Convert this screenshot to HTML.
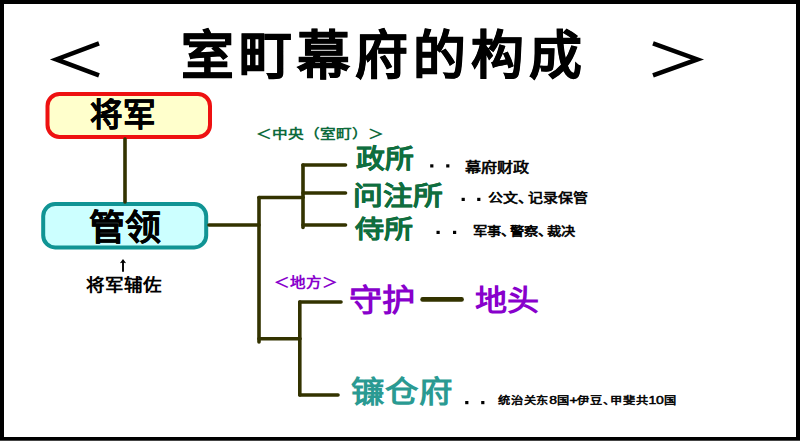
<!DOCTYPE html>
<html lang="zh-CN">
<head>
<meta charset="utf-8">
<style>
html,body{margin:0;padding:0;}
body{width:800px;height:441px;position:relative;overflow:hidden;background:#000;font-family:"Liberation Sans",sans-serif;font-weight:bold;}
#page{position:absolute;left:4px;top:4px;width:792px;height:432.8px;background:#fff;}
.a{position:absolute;white-space:nowrap;line-height:1;}
.dk{letter-spacing:-5px;}
svg{position:absolute;left:0;top:0;}
</style>
</head>
<body>
<div id="page"></div><div style="position:absolute;left:0;top:440px;width:800px;height:1px;background:#454545"></div>
<svg width="800" height="441" viewBox="0 0 800 441">
<rect x="47.5" y="94" width="162.5" height="43" rx="12" ry="12" fill="#ffffcc" stroke="#ee1111" stroke-width="4"/>
<rect x="43.2" y="204.1" width="163" height="43.3" rx="12" ry="12" fill="#ccffff" stroke="#109494" stroke-width="4"/>
<g stroke="#333300" stroke-width="3.6" stroke-linecap="round" fill="none">
<line x1="125" y1="139" x2="125" y2="202"/>
<line x1="209" y1="225" x2="259" y2="225"/>
<line x1="259" y1="197.5" x2="259" y2="342"/>
<line x1="259" y1="197.5" x2="303" y2="197.5"/>
<line x1="303" y1="165" x2="303" y2="227.5"/>
<line x1="303" y1="165" x2="345.5" y2="165"/>
<line x1="303" y1="193" x2="345.5" y2="193"/>
<line x1="303" y1="225" x2="345.5" y2="225"/>
<line x1="259" y1="338.8" x2="300" y2="338.8"/>
<line x1="299.8" y1="302" x2="299.8" y2="395"/>
<line x1="299.8" y1="302" x2="341" y2="302"/>
<line x1="299.8" y1="395" x2="338" y2="395"/>
</g>
<line x1="422.6" y1="299.4" x2="461.6" y2="299.4" stroke="#333300" stroke-width="4.6" stroke-linecap="round"/>
<g stroke="#000" stroke-width="4.5" fill="none" stroke-linejoin="miter" stroke-miterlimit="10">
<polyline points="99,43.4 56.3,59.4 99,75.4"/>
<polyline points="653,43.4 697.4,59.4 653,75.4"/>
</g>
<g stroke="#000" stroke-width="2" fill="none">
<line x1='123' y1='262' x2='123' y2='271.8' stroke-width='1.9'/><polygon points='123,258.9 126.1,263.3 123,262.4 119.9,263.3' fill='#000' stroke='none'/>
</g>
<g fill="#000">
<rect x="430.2" y="164.3" width="3.2" height="3.2"/>
<rect x="446.2" y="164.3" width="3.2" height="3.2"/>
<rect x="461.6" y="197.8" width="3.2" height="3.2"/>
<rect x="477.2" y="197.8" width="3.2" height="3.2"/>
<rect x="436.5" y="230.8" width="3.2" height="3.2"/>
<rect x="453" y="230.8" width="3.2" height="3.2"/>
<rect x="465.2" y="401" width="3.2" height="3.2"/>
<rect x="481.2" y="401" width="3.2" height="3.2"/>
</g>
</svg>
<div class="a" id="title" style="left:180.80px;top:29.94px;font-size:52.84px;letter-spacing:5.06px;color:#000;-webkit-text-stroke:0.60px #000;">室町幕府的构成</div>
<div class="a" id="jj" style="left:89.80px;top:99.10px;font-size:32.53px;letter-spacing:0.00px;color:#000;-webkit-text-stroke:0.25px #000;transform:scaleY(0.989);transform-origin:0 0;">将军</div>
<div class="a" id="gl" style="left:88.60px;top:210.96px;font-size:36.03px;letter-spacing:0.00px;color:#000;-webkit-text-stroke:0.25px #000;transform:scaleY(0.967);transform-origin:0 0;">管领</div>
<div class="a" id="fz" style="left:86.12px;top:277.86px;font-size:18.60px;letter-spacing:0.00px;color:#000;transform:scaleY(0.894);transform-origin:0 0;">将军辅佐</div>
<div class="a" id="zy" style="left:256.20px;top:126.95px;font-size:15.66px;letter-spacing:0.00px;color:#0e6b3c;transform:scaleY(0.830);transform-origin:0 0;">＜中央（室町）＞</div>
<div class="a" id="zs" style="left:355.52px;top:145.56px;font-size:28.80px;letter-spacing:0.00px;color:#0f6e3e;-webkit-text-stroke:0.20px #0f6e3e;transform:scaleY(0.916);transform-origin:0 0;">政所</div>
<div class="a" id="wz" style="left:353.28px;top:183.13px;font-size:29.78px;letter-spacing:0.00px;color:#0f6e3e;-webkit-text-stroke:0.20px #0f6e3e;transform:scaleY(0.861);transform-origin:0 0;">问注所</div>
<div class="a" id="ss" style="left:354.80px;top:217.49px;font-size:29.01px;letter-spacing:0.00px;color:#0f6e3e;-webkit-text-stroke:0.20px #0f6e3e;transform:scaleY(0.872);transform-origin:0 0;">侍所</div>
<div class="a" id="cz" style="left:465.00px;top:159.95px;font-size:16.07px;letter-spacing:0.00px;color:#000;font-weight:normal;-webkit-text-stroke:0.70px #000;transform:scaleY(0.848);transform-origin:0 0;">幕府财政</div>
<div class="a" id="gw" style="left:488.00px;top:191.42px;font-size:14.98px;letter-spacing:0.00px;color:#000;font-weight:normal;-webkit-text-stroke:0.70px #000;transform:scaleY(0.839);transform-origin:0 0;">公文<span class="dk">、</span>记录保管</div>
<div class="a" id="js" style="left:472.96px;top:224.60px;font-size:14.24px;letter-spacing:0.00px;color:#000;font-weight:normal;-webkit-text-stroke:0.70px #000;transform:scaleY(0.875);transform-origin:0 0;">军事<span class="dk">、</span>警察<span class="dk">、</span>裁决</div>
<div class="a" id="df" style="left:274.00px;top:275.96px;font-size:15.55px;letter-spacing:0.00px;color:#8800cc;transform:scaleY(0.882);transform-origin:0 0;">＜地方＞</div>
<div class="a" id="sh" style="left:349.00px;top:285.00px;font-size:33.20px;letter-spacing:0.00px;color:#8800cc;transform:scaleY(0.932);transform-origin:0 0;">守护</div>
<div class="a" id="dt" style="left:474.80px;top:286.20px;font-size:32.11px;letter-spacing:0.00px;color:#8800cc;transform:scaleY(0.908);transform-origin:0 0;">地头</div>
<div class="a" id="kc" style="left:351.40px;top:376.55px;font-size:33.55px;letter-spacing:0.00px;color:#2a9a92;transform:scaleY(0.880);transform-origin:0 0;">镰仓府</div>
<div class="a" id="tz" style="left:498.00px;top:395.86px;font-size:12.22px;letter-spacing:0.78px;color:#000;font-weight:normal;-webkit-text-stroke:0.60px #000;transform:scaleY(0.834);transform-origin:0 0;">统治关东<span style="font-size:14px;line-height:0;letter-spacing:-0.2px">8</span>国<span style="font-size:14px;line-height:0;letter-spacing:-0.2px">+</span>伊豆<span class="dk">、</span>甲斐共<span style="font-size:14px;line-height:0;letter-spacing:-0.2px">10</span>国</div>
</body>
</html>
